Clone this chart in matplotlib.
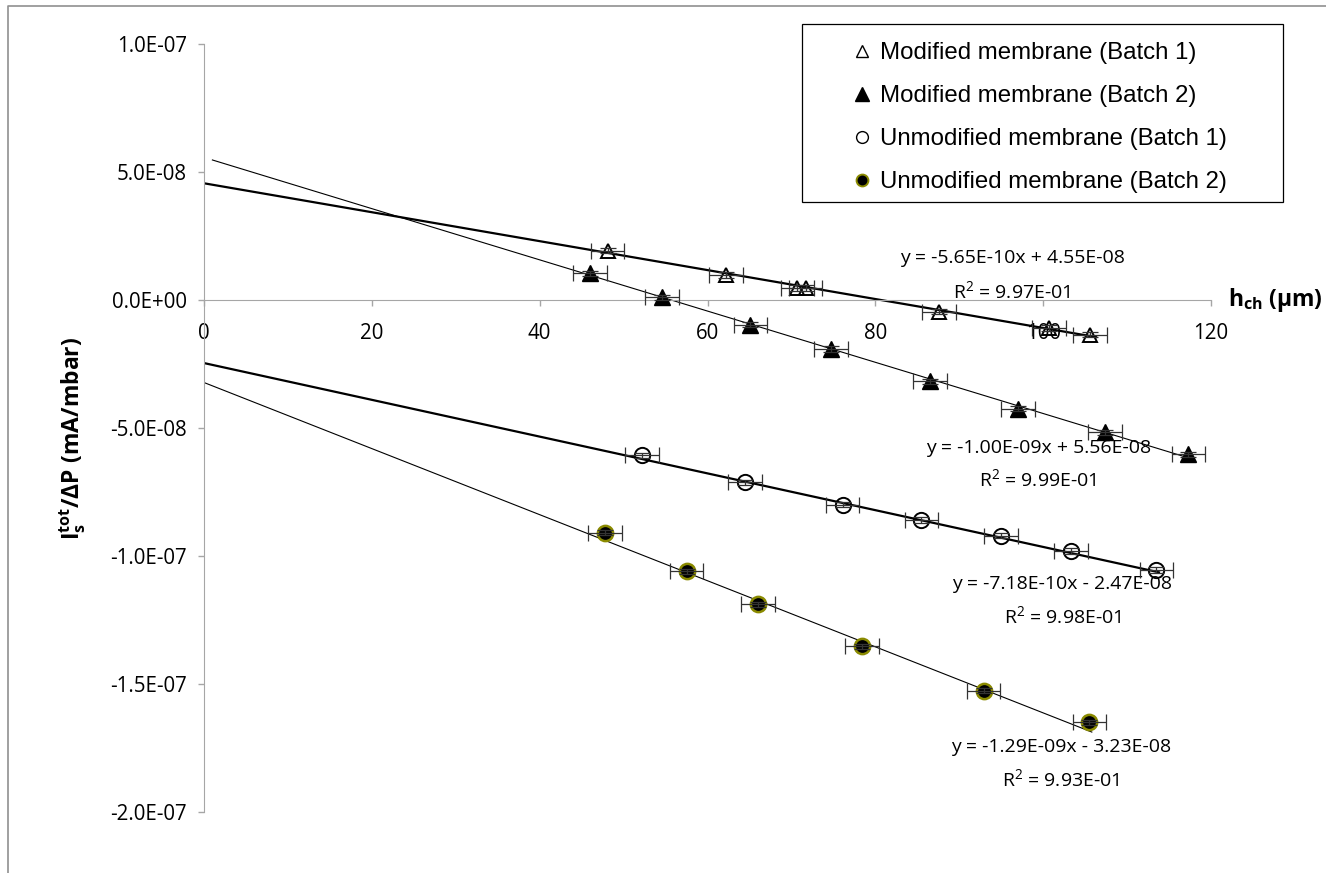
import numpy as np
import matplotlib.pyplot as plt
from matplotlib.lines import Line2D
from matplotlib.patches import Rectangle
from matplotlib.ticker import FuncFormatter, MultipleLocator

plt.rcParams['font.family'] = ['Open Sans', 'DejaVu Sans']
plt.rcParams['mathtext.fontset'] = 'custom'
plt.rcParams['mathtext.rm'] = 'Open Sans'
plt.rcParams['mathtext.it'] = 'Open Sans:italic'
plt.rcParams['mathtext.bf'] = 'Open Sans:bold'

# data
mod1_x = [48.1, 62.2, 70.7, 71.7, 87.6, 100.7, 105.6]
mod1_y = [1.92e-8, 0.97e-8, 4.6e-9, 4.6e-9, -4.6e-9, -1.10e-8, -1.36e-8]

mod2_x = [46.0, 54.6, 65.1, 74.7, 86.5, 97.0, 107.4, 117.3]
mod2_y = [1.04e-8, 1.0e-9, -9.7e-9, -1.92e-8, -3.18e-8, -4.26e-8, -5.17e-8, -6.04e-8]

unm1_x = [52.2, 64.5, 76.1, 85.5, 95.0, 103.3, 113.5]
unm1_y = [-6.07e-8, -7.12e-8, -8.00e-8, -8.60e-8, -9.22e-8, -9.81e-8, -1.055e-7]

unm2_x = [47.8, 57.5, 66.0, 78.4, 92.9, 105.5]
unm2_y = [-9.09e-8, -1.06e-7, -1.189e-7, -1.353e-7, -1.526e-7, -1.650e-7]

x_err = 2.0
y_err = 1.0e-9

# trendlines: slope, intercept, start, end
fits = {
    'mod1': (-5.65e-10, 4.55e-8, 0.0, 106.3),
    'mod2': (-1.00e-9, 5.56e-8, 1.0, 117.5),
    'unm1': (-7.18e-10, -2.47e-8, 0.0, 113.8),
    'unm2': (-1.29e-9, -3.23e-8, 0.0, 105.8),
}
fit_labels = {
    'mod1': ('y = -5.65E-10x + 4.55E-08', 'R$^2$ = 9.97E-01', 96.3, 1.64e-8, 3.5e-9),
    'mod2': ('y = -1.00E-09x + 5.56E-08', 'R$^2$ = 9.99E-01', 99.4, -5.77e-8, -7.01e-8),
    'unm1': ('y = -7.18E-10x - 2.47E-08', 'R$^2$ = 9.98E-01', 102.3, -1.111e-7, -1.235e-7),
    'unm2': ('y = -1.29E-09x - 3.23E-08', 'R$^2$ = 9.93E-01', 102.1, -1.746e-7, -1.871e-7),
}

W, H = 1326, 873
fig = plt.figure(figsize=(W / 100, H / 100), dpi=100)
ax = fig.add_axes([204 / W, (H - 812) / H, 1007 / W, (812 - 43.7) / H])
ax.set_xlim(0, 120)
ax.set_ylim(-2e-7, 1e-7)

axis_gray = '#a6a6a6'
for s in ['top', 'right']:
    ax.spines[s].set_visible(False)
ax.spines['bottom'].set_position(('data', 0))
ax.spines['left'].set_color(axis_gray)
ax.spines['bottom'].set_color(axis_gray)
ax.xaxis.set_major_locator(MultipleLocator(20))
ax.yaxis.set_major_locator(MultipleLocator(5e-8))
ax.yaxis.set_major_formatter(FuncFormatter(lambda v, p: '%.1E' % v))
ax.tick_params(axis='both', direction='out', length=4.5, width=1, color=axis_gray,
               labelsize=14.8)
ax.tick_params(axis='y', pad=8)
ax.tick_params(axis='x', pad=12)
ax.patch.set_alpha(0)

# trendlines
for key, lw in [('mod1', 1.6), ('mod2', 0.8), ('unm1', 1.6), ('unm2', 0.8)]:
    m, b, x0, x1 = fits[key]
    xs = np.array([x0, x1])
    ax.plot(xs, m * xs + b, color='black', lw=lw, zorder=2)

# markers
ax.plot(mod1_x, mod1_y, ls='none', marker='^', ms=10.5, mfc='none', mec='black', mew=1.4, zorder=3)
ax.plot(mod2_x, mod2_y, ls='none', marker='^', ms=11.5, mfc='black', mec='black', zorder=3)
ax.plot(unm1_x, unm1_y, ls='none', marker='o', ms=11, mfc='none', mec='black', mew=1.4, zorder=3)
ax.plot(unm2_x, unm2_y, ls='none', marker='o', ms=11, mfc='black', mec='#8a8a00', mew=1.8, zorder=3)

# error bars on top
for xs, ys in [(mod1_x, mod1_y), (mod2_x, mod2_y), (unm1_x, unm1_y), (unm2_x, unm2_y)]:
    ax.errorbar(xs, ys, xerr=x_err, yerr=y_err, fmt='none', ecolor='#333333',
                elinewidth=0.9, capsize=5.5, capthick=0.9, zorder=4)

for key, (eq, r2, tx, ty1, ty2) in fit_labels.items():
    ax.text(tx, ty1, eq, ha='center', va='center', fontsize=14)
    ax.text(tx, ty2, r2, ha='center', va='center', fontsize=14)

# axis titles
ax.text(122.0, 0, r'$\mathbf{h_{ch}}$ (μm)', ha='left', va='center', fontsize=16.5,
        fontweight='bold')
fig.text(73 / W, 1 - 438 / H, r'$\mathbf{I_s^{tot}/\Delta P\ (mA/mbar)}$', rotation=90,
         ha='center', va='center', fontsize=16.5)

# legend
handles = [
    Line2D([], [], ls='none', marker='^', ms=8.5, mfc='none', mec='black', mew=1.0),
    Line2D([], [], ls='none', marker='^', ms=9.5, mfc='black', mec='black'),
    Line2D([], [], ls='none', marker='o', ms=8.5, mfc='none', mec='black', mew=1.0),
    Line2D([], [], ls='none', marker='o', ms=8.5, mfc='black', mec='#8a8a00', mew=1.4),
]
labels = ['Modified membrane (Batch 1)', 'Modified membrane (Batch 2)',
          'Unmodified membrane (Batch 1)', 'Unmodified membrane (Batch 2)']
leg = fig.legend(handles, labels, loc='upper left', bbox_to_anchor=(853 / W, 1 - 42 / H),
                 frameon=False, borderpad=0, borderaxespad=0, handlelength=0.78,
                 handletextpad=0.34, labelspacing=0.88,
                 prop={'family': 'Liberation Sans', 'size': 17.3})
fig.add_artist(Rectangle((802 / W, 1 - 202 / H), (1283 - 802) / W, (202 - 24) / H,
                         transform=fig.transFigure, fill=False, ec='black', lw=0.9))

# outer chart border
fig.add_artist(Line2D([8 / W, 8 / W, 1], [0, 1 - 6 / H, 1 - 6 / H],
                      transform=fig.transFigure, color='#909090', lw=1.2))

fig.savefig('out.png', dpi=100)
